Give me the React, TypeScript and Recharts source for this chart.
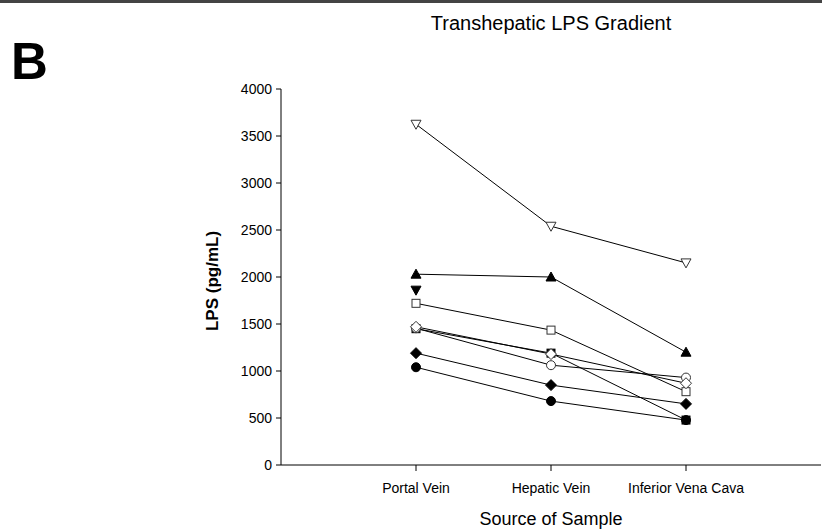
import React from 'react';
import { Line, LineChart, XAxis, YAxis } from 'recharts';

const sites = ['Portal Vein', 'Hepatic Vein', 'Inferior Vena Cava'];
const siteX = [1, 2, 3];
const yTicks = [0, 500, 1000, 1500, 2000, 2500, 3000, 3500, 4000];

// one patient per array, values in pg/mL at PV / HV / IVC
const openInvTriangle = [3625, 2540, 2150];
const filledTriangle = [2030, 2000, 1200];
const filledInvTriangle = [1860, null, null];
const openSquare = [1720, 1435, 780];
const filledSquare = [1450, 1190, 478];
const openCircle = [1455, 1062, 930];
const openDiamond = [1470, 1180, 870];
const filledDiamond = [1190, 850, 650];
const filledCircle = [1040, 680, 478];

type Kind = 'triUp' | 'triDown' | 'square' | 'circle' | 'diamond';

const series: { key: string; values: (number | null)[]; kind: Kind; filled: boolean }[] = [
  { key: 'openInvTriangle', values: openInvTriangle, kind: 'triDown', filled: false },
  { key: 'filledTriangle', values: filledTriangle, kind: 'triUp', filled: true },
  { key: 'filledInvTriangle', values: filledInvTriangle, kind: 'triDown', filled: true },
  { key: 'openSquare', values: openSquare, kind: 'square', filled: false },
  { key: 'filledCircle', values: filledCircle, kind: 'circle', filled: true },
  { key: 'filledSquare', values: filledSquare, kind: 'square', filled: true },
  { key: 'openCircle', values: openCircle, kind: 'circle', filled: false },
  { key: 'openDiamond', values: openDiamond, kind: 'diamond', filled: false },
  { key: 'filledDiamond', values: filledDiamond, kind: 'diamond', filled: true },
];

const data = siteX.map((x, i) => {
  const row: Record<string, number | null> = { x };
  series.forEach((s) => {
    row[s.key] = s.values[i];
  });
  return row;
});

function makeDot(kind: Kind, filled: boolean, name: string) {
  return (props: any) => {
    const { cx, cy, index, value } = props;
    const k = `${name}-${index}`;
    if (cx == null || cy == null || value == null) return <g key={k} />;
    const fill = filled ? '#000' : '#fff';
    const common = { fill, stroke: filled ? '#000' : '#333', strokeWidth: 1 };
    if (kind === 'circle') return <circle key={k} cx={cx} cy={cy} r={4.5} {...common} />;
    if (kind === 'square') return <rect key={k} x={cx - 4} y={cy - 4} width={8} height={8} {...common} />;
    if (kind === 'diamond')
      return <polygon key={k} points={`${cx},${cy - 5.5} ${cx + 5.5},${cy} ${cx},${cy + 5.5} ${cx - 5.5},${cy}`} {...common} />;
    if (kind === 'triUp')
      return <polygon key={k} points={`${cx},${cy - 5} ${cx + 5},${cy + 4} ${cx - 5},${cy + 4}`} {...common} />;
    return <polygon key={k} points={`${cx - 5},${cy - 4} ${cx + 5},${cy - 4} ${cx},${cy + 5}`} {...common} />;
  };
}

export default function App() {
  return (
    <div style={{ position: 'relative', width: 822, height: 530, background: '#fff', fontFamily: '"Liberation Sans", Arial, sans-serif' }}>
      <style>{'body{margin:0}'}</style>
      <div style={{ position: 'absolute', left: 0, top: 0, width: 822, height: 3, background: '#444' }} />
      <div style={{ position: 'absolute', left: 11, top: 36, fontSize: 51, fontWeight: 'bold', lineHeight: 1 }}>B</div>
      <div style={{ position: 'absolute', left: 281, width: 540, top: 11, textAlign: 'center', fontSize: 20, lineHeight: 1.2 }}>
        Transhepatic LPS Gradient
      </div>
      <div
        style={{
          position: 'absolute',
          left: 213,
          top: 281,
          fontSize: 17,
          fontWeight: 'bold',
          whiteSpace: 'nowrap',
          transform: 'translate(-50%, -50%) rotate(-90deg)',
        }}
      >
        LPS (pg/mL)
      </div>
      <div style={{ position: 'absolute', left: 281, width: 540, top: 509, textAlign: 'center', fontSize: 18, lineHeight: 1.2 }}>
        Source of Sample
      </div>
      <div style={{ position: 'absolute', left: 0, top: 0 }}>
        <LineChart width={822} height={530} data={data} margin={{ top: 89, right: 1, left: 0, bottom: 35 }}>
          <XAxis
            type="number"
            dataKey="x"
            domain={[0, 4]}
            ticks={siteX}
            tickFormatter={(v: number) => sites[v - 1]}
            stroke="#000"
            tickSize={6}
            tick={{ fill: '#000', fontSize: 14 }}
            tickMargin={12}
            interval={0}
          />
          <YAxis
            type="number"
            domain={[0, 4000]}
            ticks={yTicks}
            width={281}
            stroke="#000"
            tickSize={5}
            tick={{ fill: '#000', fontSize: 14 }}
            tickMargin={4}
            interval={0}
          />
          {series.map((s) => (
            <Line
              key={s.key}
              dataKey={s.key}
              stroke="#000"
              strokeWidth={1}
              type="linear"
              dot={makeDot(s.kind, s.filled, s.key)}
              activeDot={false}
              isAnimationActive={false}
            />
          ))}
        </LineChart>
      </div>
    </div>
  );
}
